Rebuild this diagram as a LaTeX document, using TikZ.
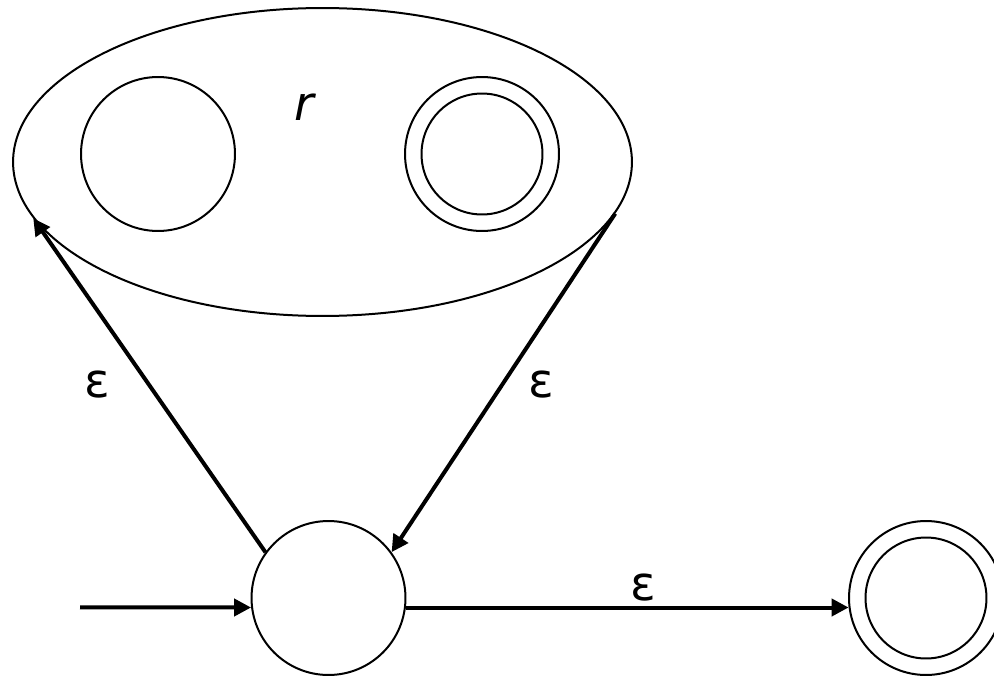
\documentclass[tikz,border=0pt]{standalone}
\usepackage{fontspec}
\setmainfont{DejaVu Sans}
\usetikzlibrary{arrows.meta,positioning,shapes.geometric}

\begin{document}
\begin{tikzpicture}[x=0.02cm,y=-0.02cm,
      state/.style={circle,draw,line width=0.04cm,minimum size=3.08cm,inner sep=0pt},
      inner/.style={circle,draw,line width=0.04cm,minimum size=2.42cm,inner sep=0pt},
      region/.style={ellipse,draw,line width=0.04cm,minimum width=12.38cm,
        minimum height=6.16cm,inner sep=0pt},
      trans/.style={-{Triangle[length=0.34cm,width=0.34cm]},line width=0.08cm},
      lbl/.style={inner sep=0pt,font=\fontsize{27}{30}\selectfont}
    ]
    \useasboundingbox (0,0) rectangle (994,676);

    % the automaton for r, wrapped in one ellipse
    \node[region] (r) at (322.5,162) {};
    \node[state] (p) at (158,154) {};
    \node[state] (q) at (482,154) {};
    \node[inner] (qi) at (q) {};
    \node[lbl] (rname) at (305,107) {\textit{r}};

    \node[state] (s) at (328.5,598) {};
    \node[state] (f) at (926,598) {};
    \node[inner] (fi) at (f) {};
    \coordinate (in) at (80,607.4);

    \draw[trans] (in) -- (s.187);
    \draw[trans] (s.-7) -- (f.187);
    \draw[trans] (s.144) -- (r.191);
    \draw[trans] (r.-10) -- (s.36);

    \node[lbl] (e1) at (97,385) {ε};
    \node[lbl] (e2) at (541,385) {ε};
    \node[lbl] (e3) at (643,588) {ε};
  \end{tikzpicture}
\end{document}
